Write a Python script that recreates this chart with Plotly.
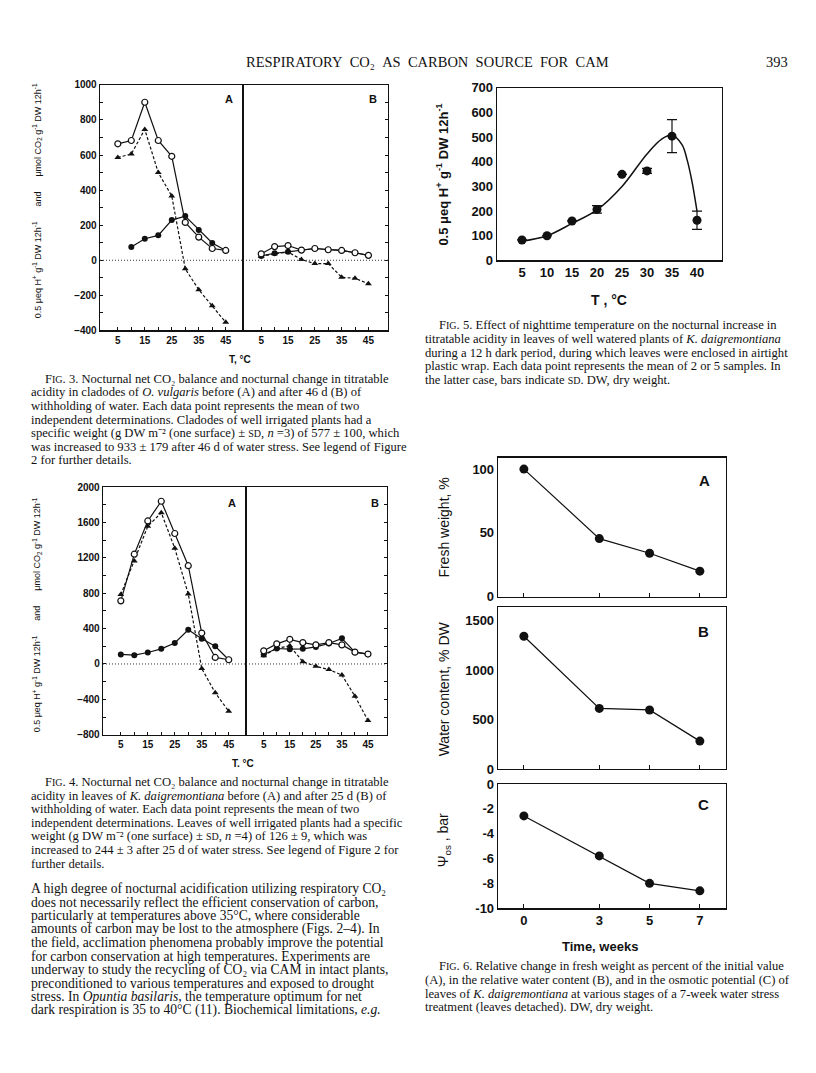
import plotly.graph_objects as go

W, H = 816, 1073

# ---------------- data ----------------
temps = [5, 10, 15, 20, 25, 30, 35, 40, 45]
# Fig 3 (O. vulgaris)
f3a_open = [664, 683, 901, 683, 593, 216, 132, 67, 56]
f3a_tri = [586, 606, 746, 500, 366, -49, -168, -259, -354]
f3a_fill_t = [10, 15, 20, 25, 30, 35, 40, 45]
f3a_fill = [75, 123, 142, 229, 252, 173, 99, 56]
f3b_open = [37, 78, 84, 58, 67, 60, 56, 43, 28]
f3b_fill = [25, 40, 48, 58, 67, 60, 56, 43, 28]
f3b_tri = [22, 37, 47, 4, -19, -19, -97, -103, -134]
# Fig 4 (K. daigremontiana)
f4a_open = [714, 1242, 1618, 1841, 1476, 1112, 350, 74, 48]
f4a_tri = [785, 1164, 1558, 1711, 1309, 792, -52, -327, -535]
f4a_fill = [108, 100, 130, 171, 238, 387, 286, 201, 48]
f4b_open = [149, 227, 279, 242, 216, 242, 216, 134, 112]
f4b_fill = [108, 175, 167, 171, 193, 231, 290, 134, 112]
f4b_tri = [93, 178, 205, 26, -26, -63, -126, -364, -640]
# Fig 5
f5_t = [5, 10, 15, 20, 25, 30, 35, 40]
f5_v = [83, 100, 160, 207, 349, 363, 504, 163]
f5_err = [0, 0, 0, 15, 0, 10, 67, 37]
f5_curve_t = [5, 10, 15, 20, 25, 30, 33, 35, 37, 38, 39, 40]
f5_curve_v = [78, 100, 150, 205, 300, 432, 493, 508, 470, 410, 320, 200]
# Fig 6
f6_weeks = [0, 3, 5, 7]
f6_fw = [100, 45.5, 34, 20]
f6_wc = [1340, 613, 597, 283]
f6_psi = [-2.57, -5.79, -8.0, -8.6]

# tick labels
t_x_major = [5, 15, 25, 35, 45]
t_x_minor = [10, 20, 30, 40]
f3_y_major = list(range(-400, 1001, 200))
f3_y_minor = list(range(-300, 1000, 200))
f4_y_major = list(range(-800, 2001, 400))
f4_y_minor = list(range(-600, 2000, 400))
f5_x_vals = [5, 10, 15, 20, 25, 30, 35, 40]
f5_y_vals = [0, 100, 200, 300, 400, 500, 600, 700]
f6_x_vals = [0, 3, 5, 7]
f6a_y = [0, 50, 100]
f6b_y = [0, 500, 1000, 1500]
f6c_y = [0, -2, -4, -6, -8, -10]
f6c_y_text = ["0", "-2", "-4", "-6", "-8", "-10"]

SANS = "Liberation Sans Narrow, Liberation Sans, Arial, sans-serif"
SERIF = "Liberation Serif, Times New Roman, serif"
INK = "#111111"


def xd(a, b):
    return [a / W, b / W]


def yd(top, bot):
    return [1 - bot / H, 1 - top / H]


fig = go.Figure()


def line_trace(ax, x, y, marker, dash="solid", msize=6):
    xa = "x" if ax == 1 else f"x{ax}"
    ya = "y" if ax == 1 else f"y{ax}"
    if marker == "open":
        mk = dict(symbol="circle", size=msize, color="white", line=dict(color=INK, width=1.2))
    elif marker == "fill":
        mk = dict(symbol="circle", size=msize, color=INK, line=dict(color=INK, width=0))
    else:
        mk = dict(symbol="triangle-up", size=msize, color=INK, line=dict(color=INK, width=0))
    fig.add_trace(go.Scatter(x=x, y=y, mode="lines+markers", xaxis=xa, yaxis=ya,
                             line=dict(color=INK, width=1.2, dash=dash), marker=mk,
                             showlegend=False, hoverinfo="skip"))


DOT = "3px,2px"
# Fig 3
line_trace(1, temps, f3a_tri, "tri", DOT)
line_trace(1, f3a_fill_t, f3a_fill, "fill")
line_trace(1, temps, f3a_open, "open")
line_trace(2, temps, f3b_tri, "tri", DOT)
line_trace(2, temps, f3b_fill, "fill")
line_trace(2, temps, f3b_open, "open")
# Fig 4
line_trace(4, temps, f4a_tri, "tri", DOT)
line_trace(4, temps, f4a_fill, "fill")
line_trace(4, temps, f4a_open, "open")
line_trace(5, temps, f4b_tri, "tri", DOT)
line_trace(5, temps, f4b_fill, "fill")
line_trace(5, temps, f4b_open, "open")

# Fig 5
fig.add_trace(go.Scatter(x=f5_curve_t, y=f5_curve_v, mode="lines", xaxis="x3", yaxis="y3",
                         line=dict(color=INK, width=1.5, shape="spline", smoothing=1.0),
                         showlegend=False, hoverinfo="skip"))
fig.add_trace(go.Scatter(x=f5_t, y=f5_v, mode="markers", xaxis="x3", yaxis="y3",
                         marker=dict(symbol="circle", size=9, color=INK),
                         error_y=dict(type="data", array=f5_err, visible=True, color=INK,
                                      thickness=1.2, width=5),
                         showlegend=False, hoverinfo="skip"))
# Fig 6
line_trace(6, f6_weeks, f6_fw, "fill", msize=9)
line_trace(7, f6_weeks, f6_wc, "fill", msize=9)
line_trace(8, f6_weeks, f6_psi, "fill", msize=9)

# ---------------- axes ----------------
frame = dict(showline=True, linecolor=INK, linewidth=1.3, mirror=True, showgrid=False,
             zeroline=False, tickcolor=INK)
small = dict(family=SANS, size=10, color=INK, weight="bold")
big = dict(family=SANS, size=13, color=INK, weight="bold")


def minor(vals):
    return dict(tickmode="array", tickvals=vals, ticks="inside", ticklen=3, tickcolor=INK,
                showgrid=False)


def temp_x(dom, rng, anchor):
    return dict(frame, domain=dom, range=rng, anchor=anchor, tickmode="array",
                tickvals=t_x_major, ticks="inside", ticklen=3, tickfont=small,
                minor=minor(t_x_minor))


lay = {}
# Fig 3
lay["xaxis"] = temp_x(xd(100, 243), [-1.6, 51.4], "y")
lay["yaxis"] = dict(frame, domain=yd(79, 328), range=[-400, 1000], anchor="x",
                    tickmode="array", tickvals=f3_y_major, ticks="inside", ticklen=3,
                    tickfont=small, minor=minor(f3_y_minor))
lay["xaxis2"] = temp_x(xd(243, 388), [-1.8, 52.3], "y2")
lay["yaxis2"] = dict(frame, domain=yd(79, 328), range=[-400, 1000], anchor="x2", side="right",
                     tickmode="array", tickvals=f3_y_major, ticks="inside", ticklen=3,
                     showticklabels=False, minor=minor(f3_y_minor))
# Fig 5
lay["xaxis3"] = dict(frame, domain=xd(497, 722), range=[0, 45], anchor="y3",
                     tickmode="array", tickvals=f5_x_vals, ticks="", tickfont=big)
lay["yaxis3"] = dict(frame, domain=yd(82, 257), range=[0, 700], anchor="x3",
                     tickmode="array", tickvals=f5_y_vals, ticks="", tickfont=big)
# Fig 4
lay["xaxis4"] = temp_x(xd(103, 246), [-1.6, 51.4], "y4")
lay["yaxis4"] = dict(frame, domain=yd(487, 738), range=[-800, 2000], anchor="x4",
                     tickmode="array", tickvals=f4_y_major, ticks="inside", ticklen=3,
                     tickfont=small, minor=minor(f4_y_minor))
lay["xaxis5"] = temp_x(xd(246, 387), [-1.8, 52.3], "y5")
lay["yaxis5"] = dict(frame, domain=yd(487, 738), range=[-800, 2000], anchor="x5", side="right",
                     tickmode="array", tickvals=f4_y_major, ticks="inside", ticklen=3,
                     showticklabels=False, minor=minor(f4_y_minor))
# Fig 6
f6font = dict(family=SANS, size=13, color=INK, weight="bold")
for i, (top, bot, rng, yv, ytxt, showx) in zip(
        [6, 7, 8],
        [(457, 598, [0, 109], f6a_y, [str(v) for v in f6a_y], False),
         (609, 773, [0, 1630], f6b_y, [str(v) for v in f6b_y], False),
         (788, 914, [-10, 0], f6c_y, f6c_y_text, True)]):
    lay[f"xaxis{i}"] = dict(frame, domain=xd(498, 726), range=[-1.03, 8.04], anchor=f"y{i}",
                            tickmode="array", tickvals=f6_x_vals, ticks="inside", ticklen=4,
                            showticklabels=showx, tickfont=f6font)
    lay[f"yaxis{i}"] = dict(frame, domain=yd(top, bot), range=rng, anchor=f"x{i}",
                            tickmode="array", tickvals=yv, ticktext=ytxt, ticks="",
                            tickfont=f6font)

# zero lines (dotted) on fig 3 & 4 panels
shapes = []
for i in [1, 2, 4, 5]:
    xr = "x domain" if i == 1 else f"x{i} domain"
    yr = "y" if i == 1 else f"y{i}"
    shapes.append(dict(type="line", xref=xr, yref=yr, x0=0, x1=1, y0=0, y1=0,
                       line=dict(color="#333", width=1, dash="1px,2px")))

# ---------------- text ----------------
ann = []


def txt(x, y, s, size=12, family=SERIF, xa="left", ya="middle", angle=0, weight="normal"):
    ann.append(dict(x=x / W, y=1 - y / H, xref="paper", yref="paper", text=s, showarrow=False,
                    xanchor=xa, yanchor=ya, textangle=angle, borderpad=0,
                    font=dict(family=family, size=size, color=INK, weight=weight)))


SC = "<span style='font-size:10px'>"
FIG = "F" + SC + "IG</span>."
SD = SC + "SD</span>"

nb = "\u00a0\u00a0"
txt(427, 56, nb.join(["RESPIRATORY", "CO₂", "AS", "CARBON", "SOURCE", "FOR", "CAM"]),
    size=14.5, xa="center")
txt(789, 56, "393", size=14.5, xa="right")

# panel labels
for (x, y, s) in [(229, 93, "A"), (373, 93, "B"), (232, 503, "A"), (375, 503, "B")]:
    txt(x, y, s, size=11, family=SANS, xa="center", weight="bold")
for (x, y, s) in [(704, 480, "A"), (703, 633, "B"), (703, 809, "C")]:
    txt(x, y, s, size=15, family=SANS, xa="center", weight="bold")

sp = "\u00a0" * 6
ytitle = ("0.5 μeq H<sup>+</sup> g<sup>-1</sup> DW 12h<sup>-1</sup>" + sp + "and" + sp +
          "μmol CO<sub>2</sub> g<sup>-1</sup> DW 12h<sup>-1</sup>")
txt(37, 197, ytitle, size=9, family=SANS, xa="center", angle=-90)
txt(37, 617, ytitle, size=9, family=SANS, xa="center", angle=-90)
txt(240, 358, "T, °C", size=10, family=SANS, xa="center", weight="bold")
txt(243, 767, "T. °C", size=10, family=SANS, xa="center", weight="bold")
txt(442, 170, "0.5 μeq H<sup>+</sup> g<sup>-1</sup> DW 12h<sup>-1</sup>", size=13, family=SANS,
    xa="center", angle=-90, weight="bold")
txt(609, 297, "T , °C", size=14, family=SANS, xa="center", weight="bold")
txt(444, 528, "Fresh weight, %", size=14, family=SANS, xa="center", angle=-90)
txt(444, 691, "Water content, % DW", size=14, family=SANS, xa="center", angle=-90)
txt(444, 845, "Ψ<sub>os</sub> , bar", size=14, family=SANS, xa="center", angle=-90)
txt(600, 953, "Time, weeks", size=13, family=SANS, xa="center", weight="bold")

cap3 = [
    FIG + " 3. Nocturnal net CO₂ balance and nocturnal change in titratable",
    "acidity in cladodes of <i>O. vulgaris</i> before (A) and after 46 d (B) of",
    "withholding of water. Each data point represents the mean of two",
    "independent determinations. Cladodes of well irrigated plants had a",
    "specific weight (g DW m⁻² (one surface) ± " + SD + ", <i>n</i> =3) of 577 ± 100, which",
    "was increased to 933 ± 179 after 46 d of water stress. See legend of Figure",
    "2 for further details.",
]
cap4 = [
    FIG + " 4. Nocturnal net CO₂ balance and nocturnal change in titratable",
    "acidity in leaves of <i>K. daigremontiana</i> before (A) and after 25 d (B) of",
    "withholding of water. Each data point represents the mean of two",
    "independent determinations. Leaves of well irrigated plants had a specific",
    "weight (g DW m⁻² (one surface) ± " + SD + ", <i>n</i> =4) of 126 ± 9, which was",
    "increased to 244 ± 3 after 25 d of water stress. See legend of Figure 2 for",
    "further details.",
]
body = [
    "A high degree of nocturnal acidification utilizing respiratory CO₂",
    "does not necessarily reflect the efficient conservation of carbon,",
    "particularly at temperatures above 35°C, where considerable",
    "amounts of carbon may be lost to the atmosphere (Figs. 2–4). In",
    "the field, acclimation phenomena probably improve the potential",
    "for carbon conservation at high temperatures. Experiments are",
    "underway to study the recycling of CO₂ via CAM in intact plants,",
    "preconditioned to various temperatures and exposed to drought",
    "stress. In <i>Opuntia basilaris</i>, the temperature optimum for net",
    "dark respiration is 35 to 40°C (11). Biochemical limitations, <i>e.g.</i>",
]
cap5 = [
    FIG + " 5. Effect of nighttime temperature on the nocturnal increase in",
    "titratable acidity in leaves of well watered plants of <i>K. daigremontiana</i>",
    "during a 12 h dark period, during which leaves were enclosed in airtight",
    "plastic wrap. Each data point represents the mean of 2 or 5 samples. In",
    "the latter case, bars indicate " + SD + ". DW, dry weight.",
]
cap6 = [
    FIG + " 6. Relative change in fresh weight as percent of the initial value",
    "(A), in the relative water content (B), and in the osmotic potential (C) of",
    "leaves of <i>K. daigremontiana</i> at various stages of a 7-week water stress",
    "treatment (leaves detached). DW, dry weight.",
]


def block(lines, x0, y0, step, size, indent=14):
    for k, s in enumerate(lines):
        txt(x0 + (indent if k == 0 else 0), y0 + k * step, s, size=size)


block(cap3, 30, 377, 13.8, 12.6)
block(cap4, 30, 786, 13.8, 12.6)
block(body, 30, 894, 13.7, 13.6, indent=0)
block(cap5, 424, 323, 13.8, 12.6)
block(cap6, 424, 973, 13.8, 12.6)

fig.update_layout(width=W, height=H, margin=dict(l=0, r=0, t=0, b=0),
                  paper_bgcolor="white", plot_bgcolor="white", showlegend=False,
                  shapes=shapes, annotations=ann, **lay)

fig.write_html("out.html", config={"displayModeBar": False, "staticPlot": True},
               post_script="document.body.style.margin='0px';")
